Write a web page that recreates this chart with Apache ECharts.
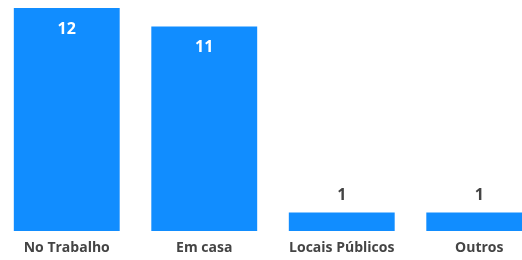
<!DOCTYPE html>
<html>
<head>
<meta charset="utf-8">
<script src="https://cdn.jsdelivr.net/npm/echarts@6/dist/echarts.min.js"></script>
<style>
    html, body { margin: 0; padding: 0; background: #fff; }
    #chart { width: 522px; height: 260px; }
</style>
</head>
<body>
<div id="chart"></div>
<script>
// categorias e valores
const categorias = ['No Trabalho', 'Em casa', 'Locais Públicos', 'Outros'];
const valores = [12, 11, 1, 1];

const chart = echarts.init(document.getElementById('chart'));

// barras altas: rótulo branco dentro; barras baixas: rótulo escuro em cima
const dados = valores.map(v => {
    if (v > 3) {
        return {
            value: v,
            label: { position: 'insideTop', distance: 13, color: '#fff' }
        };
    }
    return {
        value: v,
        label: { position: 'top', distance: 9, color: '#444' }
    };
});

const option = {
    animation: false,
    textStyle: { fontFamily: 'Open Sans' },
    grid: {
        left: -2,
        width: 550,
        top: 8,
        bottom: 29,
        containLabel: false,
        outerBoundsMode: 'none'
    },
    xAxis: {
        type: 'category',
        data: categorias,
        axisLine: { show: false },
        axisTick: { show: false },
        axisLabel: {
            interval: 0,
            margin: 10,
            color: '#444',
            fontSize: 14,
            fontWeight: 'bold',
            fontFamily: 'Open Sans'
        }
    },
    yAxis: {
        type: 'value',
        min: 0,
        max: 12,
        show: false,
        splitLine: { show: false }
    },
    series: [
        {
            type: 'bar',
            data: dados,
            barCategoryGap: '23%',
            itemStyle: { color: '#118DFF' },
            label: {
                show: true,
                fontSize: 16,
                fontWeight: 'bold',
                fontFamily: 'Open Sans'
            }
        }
    ]
};
chart.setOption(option);
</script>
</body>
</html>
